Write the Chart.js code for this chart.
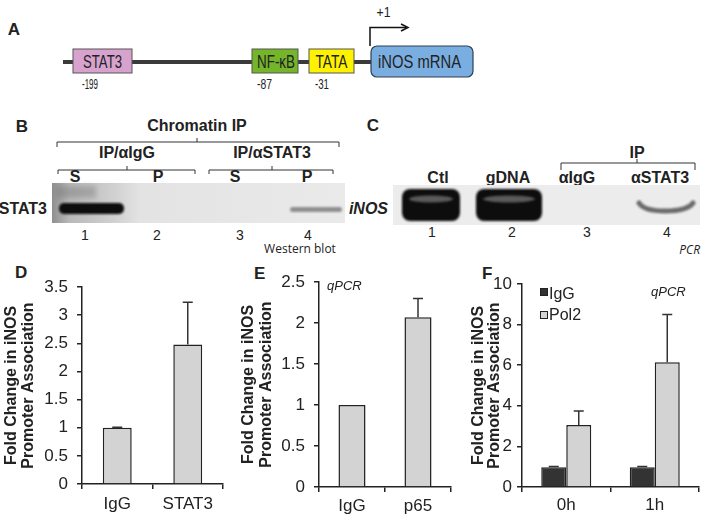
<!DOCTYPE html>
<html>
<head>
<meta charset="utf-8">
<script src="https://cdn.jsdelivr.net/npm/chart.js@4"></script>
<style>
  html, body { margin:0; padding:0; background:#fff; }
  #page { position:relative; width:709px; height:520px; overflow:hidden; font-family:"Liberation Sans", Arial, sans-serif; color:#222; }
  .abs { position:absolute; }
  svg text { font-family:"Liberation Sans", Arial, sans-serif; fill:#222; }
  .lbl { position:absolute; font-weight:bold; font-size:17px; line-height:17px; }
  .leg { position:absolute; font-size:16px; line-height:16px; white-space:nowrap; }
  .sq { position:absolute; width:8px; height:8px; box-sizing:border-box; border:1px solid #222; }
  .it { position:absolute; font-style:italic; font-size:13px; line-height:13px; white-space:nowrap; }
</style>
</head>
<body>
<div id="page">
<svg class="abs" style="left:0;top:0" width="709" height="258" viewBox="0 0 709 258">
  <defs>
    <filter id="b1" x="-20%" y="-50%" width="140%" height="200%"><feGaussianBlur stdDeviation="1.3"/></filter>
    <filter id="b2" x="-20%" y="-50%" width="140%" height="200%"><feGaussianBlur stdDeviation="2.5"/></filter>
    <linearGradient id="gB" x1="0" x2="1" y1="0" y2="0">
      <stop offset="0" stop-color="#8f8f8f"/>
      <stop offset="0.06" stop-color="#b9b9b9"/>
      <stop offset="0.22" stop-color="#d2d2d2"/>
      <stop offset="0.3" stop-color="#e3e3e3"/>
      <stop offset="1" stop-color="#eaeaea"/>
    </linearGradient>
  </defs>

  <!-- Panel A -->
  <text x="14" y="35" font-size="17" font-weight="bold" text-anchor="middle">A</text>
  <rect x="63" y="60" width="310" height="4" fill="#3a3a3a"/>
  <rect x="73" y="49" width="59" height="24" fill="#d8a2cf" stroke="#555" stroke-width="1"/>
  <text x="102.5" y="68" font-size="19" text-anchor="middle" textLength="39" lengthAdjust="spacingAndGlyphs">STAT3</text>
  <rect x="252" y="49" width="46" height="24" fill="#74b52a" stroke="#555" stroke-width="1"/>
  <text x="276" y="68" font-size="19" text-anchor="middle" textLength="38" lengthAdjust="spacingAndGlyphs">NF-κB</text>
  <rect x="309" y="49" width="45" height="24" fill="#fff200" stroke="#555" stroke-width="1"/>
  <text x="331.5" y="68" font-size="19" text-anchor="middle" textLength="32" lengthAdjust="spacingAndGlyphs">TATA</text>
  <rect x="371" y="46" width="102" height="31" rx="6" ry="6" fill="#7aaee0" stroke="#2e3f55" stroke-width="1.2"/>
  <text x="419.5" y="68" font-size="19" text-anchor="middle" textLength="83" lengthAdjust="spacingAndGlyphs">iNOS mRNA</text>
  <text x="90" y="89" font-size="14" text-anchor="middle" textLength="16" lengthAdjust="spacingAndGlyphs">-199</text>
  <text x="264.5" y="89" font-size="14" text-anchor="middle" textLength="15" lengthAdjust="spacingAndGlyphs">-87</text>
  <text x="322" y="89" font-size="14" text-anchor="middle" textLength="14" lengthAdjust="spacingAndGlyphs">-31</text>
  <text x="383.5" y="16.5" font-size="15" text-anchor="middle" textLength="14" lengthAdjust="spacingAndGlyphs">+1</text>
  <path d="M370,46 L370,27.5 L406,27.5" fill="none" stroke="#111" stroke-width="1.5"/>
  <path d="M401,24 L408,27.5 L401,31" fill="none" stroke="#111" stroke-width="1.5"/>

  <!-- Panel B -->
  <text x="22" y="132" font-size="17" font-weight="bold" text-anchor="middle">B</text>
  <text x="197" y="131" font-size="16" font-weight="bold" text-anchor="middle">Chromatin IP</text>
  <path d="M57,147 L57,142 L339,142 L339,147 M197,142 L197,138" fill="none" stroke="#333" stroke-width="1"/>
  <text x="127" y="158" font-size="16" font-weight="bold" text-anchor="middle">IP/αIgG</text>
  <text x="272" y="158" font-size="16" font-weight="bold" text-anchor="middle">IP/αSTAT3</text>
  <path d="M58,174 L58,170 L195,170 L195,174 M127,170 L127,166 M209,174 L209,170 L333,170 L333,174 M272,170 L272,166" fill="none" stroke="#333" stroke-width="1"/>
  <text x="75" y="182" font-size="16" font-weight="bold" text-anchor="middle">S</text>
  <text x="158" y="182" font-size="16" font-weight="bold" text-anchor="middle">P</text>
  <text x="235" y="182" font-size="16" font-weight="bold" text-anchor="middle">S</text>
  <text x="307" y="182" font-size="16" font-weight="bold" text-anchor="middle">P</text>
  <rect x="52" y="183" width="293" height="40" fill="url(#gB)"/>
  <rect x="56" y="186" width="40" height="12" fill="#6a6a6a" opacity="0.35" filter="url(#b2)"/>
  <rect x="59" y="203" width="65" height="11" rx="5" fill="#0a0a0a" filter="url(#b1)"/>
  <rect x="290" y="207" width="52" height="5" rx="2.5" fill="#808080" opacity="0.85" filter="url(#b1)"/>
  <text x="47" y="214" font-size="16" font-weight="bold" text-anchor="end">STAT3</text>
  <text x="85" y="240" font-size="14" text-anchor="middle">1</text>
  <text x="157" y="240" font-size="14" text-anchor="middle">2</text>
  <text x="240" y="240" font-size="14" text-anchor="middle">3</text>
  <text x="308" y="240" font-size="14" text-anchor="middle">4</text>
  <text x="300" y="253" font-size="12" text-anchor="middle" style="font-family:'Open Sans', sans-serif">Western blot</text>

  <!-- Panel C -->
  <text x="373" y="131" font-size="17" font-weight="bold" text-anchor="middle">C</text>
  <text x="637" y="158" font-size="16" font-weight="bold" text-anchor="middle">IP</text>
  <path d="M561,170 L561,163 L695,163 L695,170 M637,163 L637,159" fill="none" stroke="#333" stroke-width="1"/>
  <text x="438" y="183" font-size="16" font-weight="bold" text-anchor="middle">Ctl</text>
  <text x="508" y="183" font-size="16" font-weight="bold" text-anchor="middle">gDNA</text>
  <text x="577" y="183" font-size="16" font-weight="bold" text-anchor="middle">αIgG</text>
  <text x="660" y="183" font-size="16" font-weight="bold" text-anchor="middle">αSTAT3</text>
  <rect x="393" y="185" width="307" height="40" fill="#ececec"/>
  <rect x="402" y="189" width="58" height="32" rx="8" fill="#101010" filter="url(#b1)"/>
  <ellipse cx="431" cy="199" rx="22" ry="3.5" fill="#5a5a5a" filter="url(#b1)"/>
  <rect x="476" y="189" width="66" height="32" rx="8" fill="#101010" filter="url(#b1)"/>
  <ellipse cx="509" cy="199" rx="26" ry="3.5" fill="#5a5a5a" filter="url(#b1)"/>
  <path d="M639,203 Q644,211 665,211 Q687,211 693,203" fill="none" stroke="#6a6a6a" stroke-width="5" stroke-linecap="round" filter="url(#b1)"/>
  <text x="388" y="214" font-size="16" font-weight="bold" font-style="italic" text-anchor="end">iNOS</text>
  <text x="432" y="237" font-size="14" text-anchor="middle">1</text>
  <text x="512" y="237" font-size="14" text-anchor="middle">2</text>
  <text x="587" y="237" font-size="14" text-anchor="middle">3</text>
  <text x="667" y="237" font-size="14" text-anchor="middle">4</text>
  <text x="700" y="254" font-size="12" font-style="italic" text-anchor="end" style="font-family:'Open Sans', sans-serif">PCR</text>
</svg>

<div class="lbl" style="left:15px;top:264px;">D</div>
<div class="lbl" style="left:254px;top:265px;">E</div>
<div class="lbl" style="left:482px;top:265px;">F</div>

<div class="abs" style="left:0;top:258px;width:235px;height:262px"><canvas id="cD" width="235" height="262"></canvas></div>
<div class="abs" style="left:240px;top:255px;width:222px;height:265px"><canvas id="cE" width="222" height="265"></canvas></div>
<div class="abs" style="left:470px;top:257px;width:239px;height:263px"><canvas id="cF" width="239" height="263"></canvas></div>

<div class="it" style="left:327px;top:279px;">qPCR</div>
<div class="it" style="left:651px;top:285px;">qPCR</div>
<div class="sq" style="left:540px;top:288px;background:#333;"></div>
<div class="leg" style="left:549px;top:286px;">IgG</div>
<div class="sq" style="left:540px;top:311px;background:#d3d3d3;"></div>
<div class="leg" style="left:549px;top:307px;">Pol2</div>
</div>

<script>
// ---- Data ----
const dCategories = ['IgG', 'STAT3'];
const dValues = [1.0, 2.48];
const dErrors = [0.01, 0.75];
const dTicks = [0, 0.5, 1, 1.5, 2, 2.5, 3, 3.5];

const eCategories = ['IgG', 'p65'];
const eValues = [1.0, 2.07];
const eErrors = [0, 0.23];
const eTicks = [0, 0.5, 1, 1.5, 2, 2.5];

const fCategories = ['0h', '1h'];
const fIgG = [0.97, 0.97];
const fIgGErrors = [0.04, 0.04];
const fPol2 = [3.05, 6.15];
const fPol2Errors = [0.7, 2.35];
const fTicks = [0, 2, 4, 6, 8, 10];

const yTitle = ['Fold Change in iNOS', 'Promoter Association'];

const errorBars = {
  id: 'errorBars',
  afterDatasetsDraw(chart) {
    const ctx = chart.ctx;
    const ys = chart.scales.y;
    chart.data.datasets.forEach((ds, i) => {
      if (!ds.errors) return;
      const meta = chart.getDatasetMeta(i);
      meta.data.forEach((bar, j) => {
        const e = ds.errors[j];
        if (!e) return;
        const base = ys.getPixelForValue(ds.data[j]);
        const top = ys.getPixelForValue(ds.data[j] + e);
        ctx.save();
        ctx.strokeStyle = '#333';
        ctx.lineWidth = 1.5;
        ctx.beginPath();
        ctx.moveTo(bar.x, base);
        ctx.lineTo(bar.x, top);
        ctx.moveTo(bar.x - 5, top);
        ctx.lineTo(bar.x + 5, top);
        ctx.stroke();
        ctx.restore();
      });
    });
  }
};

const FONT = '"Liberation Sans", Arial, sans-serif';

function makeChart(id, cfg) {
  return new Chart(document.getElementById(id), {
    type: 'bar',
    data: { labels: cfg.labels, datasets: cfg.datasets },
    plugins: [errorBars],
    options: {
      responsive: false,
      animation: false,
      events: [],
      layout: { padding: { top: cfg.padTop, right: cfg.padRight, left: 0, bottom: 0 } },
      plugins: { legend: { display: false }, tooltip: { enabled: false } },
      datasets: { bar: { categoryPercentage: cfg.catPct, barPercentage: cfg.barPct } },
      scales: {
        x: {
          offset: true,
          grid: { offset: true, display: true, drawOnChartArea: false, drawTicks: true, tickLength: 5, color: '#222', lineWidth: 1.5 },
          border: { display: true, color: '#222', width: 1.5 },
          ticks: { color: '#222', font: { family: FONT, size: 17 }, padding: cfg.xPad, maxRotation: 0 },
          afterFit(s) { s.height = cfg.xHeight; }
        },
        y: {
          min: 0,
          max: cfg.ticks[cfg.ticks.length - 1],
          grid: { display: true, drawOnChartArea: false, drawTicks: true, tickLength: 5, color: '#222', lineWidth: 1.5 },
          border: { display: true, color: '#222', width: 1.5 },
          afterBuildTicks(s) { s.ticks = cfg.ticks.map(v => ({ value: v })); },
          ticks: { color: '#222', font: { family: FONT, size: 17 }, padding: cfg.yPad, callback: v => String(v) },
          title: { display: true, text: yTitle, color: '#222', font: { family: FONT, size: 16, weight: 'bold', lineHeight: cfg.titleLH }, padding: { top: cfg.titlePad, bottom: 0 } },
          afterFit(s) { s.width = cfg.yWidth; }
        }
      }
    }
  });
}

makeChart('cD', {
  labels: dCategories,
  datasets: [{ data: dValues, errors: dErrors, backgroundColor: '#d3d3d3', borderColor: '#222', borderWidth: 1.5 }],
  padTop: 29, padRight: 12, catPct: 1, barPct: 0.41, xPad: 5, xHeight: 36, yPad: 9, yWidth: 82,
  ticks: dTicks, titleLH: 1.06, titlePad: 3
});

makeChart('cE', {
  labels: eCategories,
  datasets: [{ data: eValues, errors: eErrors, backgroundColor: '#d3d3d3', borderColor: '#222', borderWidth: 1.5 }],
  padTop: 27, padRight: 11, catPct: 1, barPct: 0.41, xPad: 4, xHeight: 33, yPad: 9, yWidth: 79,
  ticks: eTicks, titleLH: 1.12, titlePad: 0
});

makeChart('cF', {
  labels: fCategories,
  datasets: [
    { label: 'IgG', data: fIgG, errors: fIgGErrors, backgroundColor: '#333333', borderColor: '#222', borderWidth: 1.5 },
    { label: 'Pol2', data: fPol2, errors: fPol2Errors, backgroundColor: '#d3d3d3', borderColor: '#222', borderWidth: 1.5 }
  ],
  padTop: 27, padRight: 10, catPct: 0.565, barPct: 1, xPad: 3, xHeight: 33, yPad: 5, yWidth: 52,
  ticks: fTicks, titleLH: 1.03, titlePad: 0
});
</script>
</body>
</html>
